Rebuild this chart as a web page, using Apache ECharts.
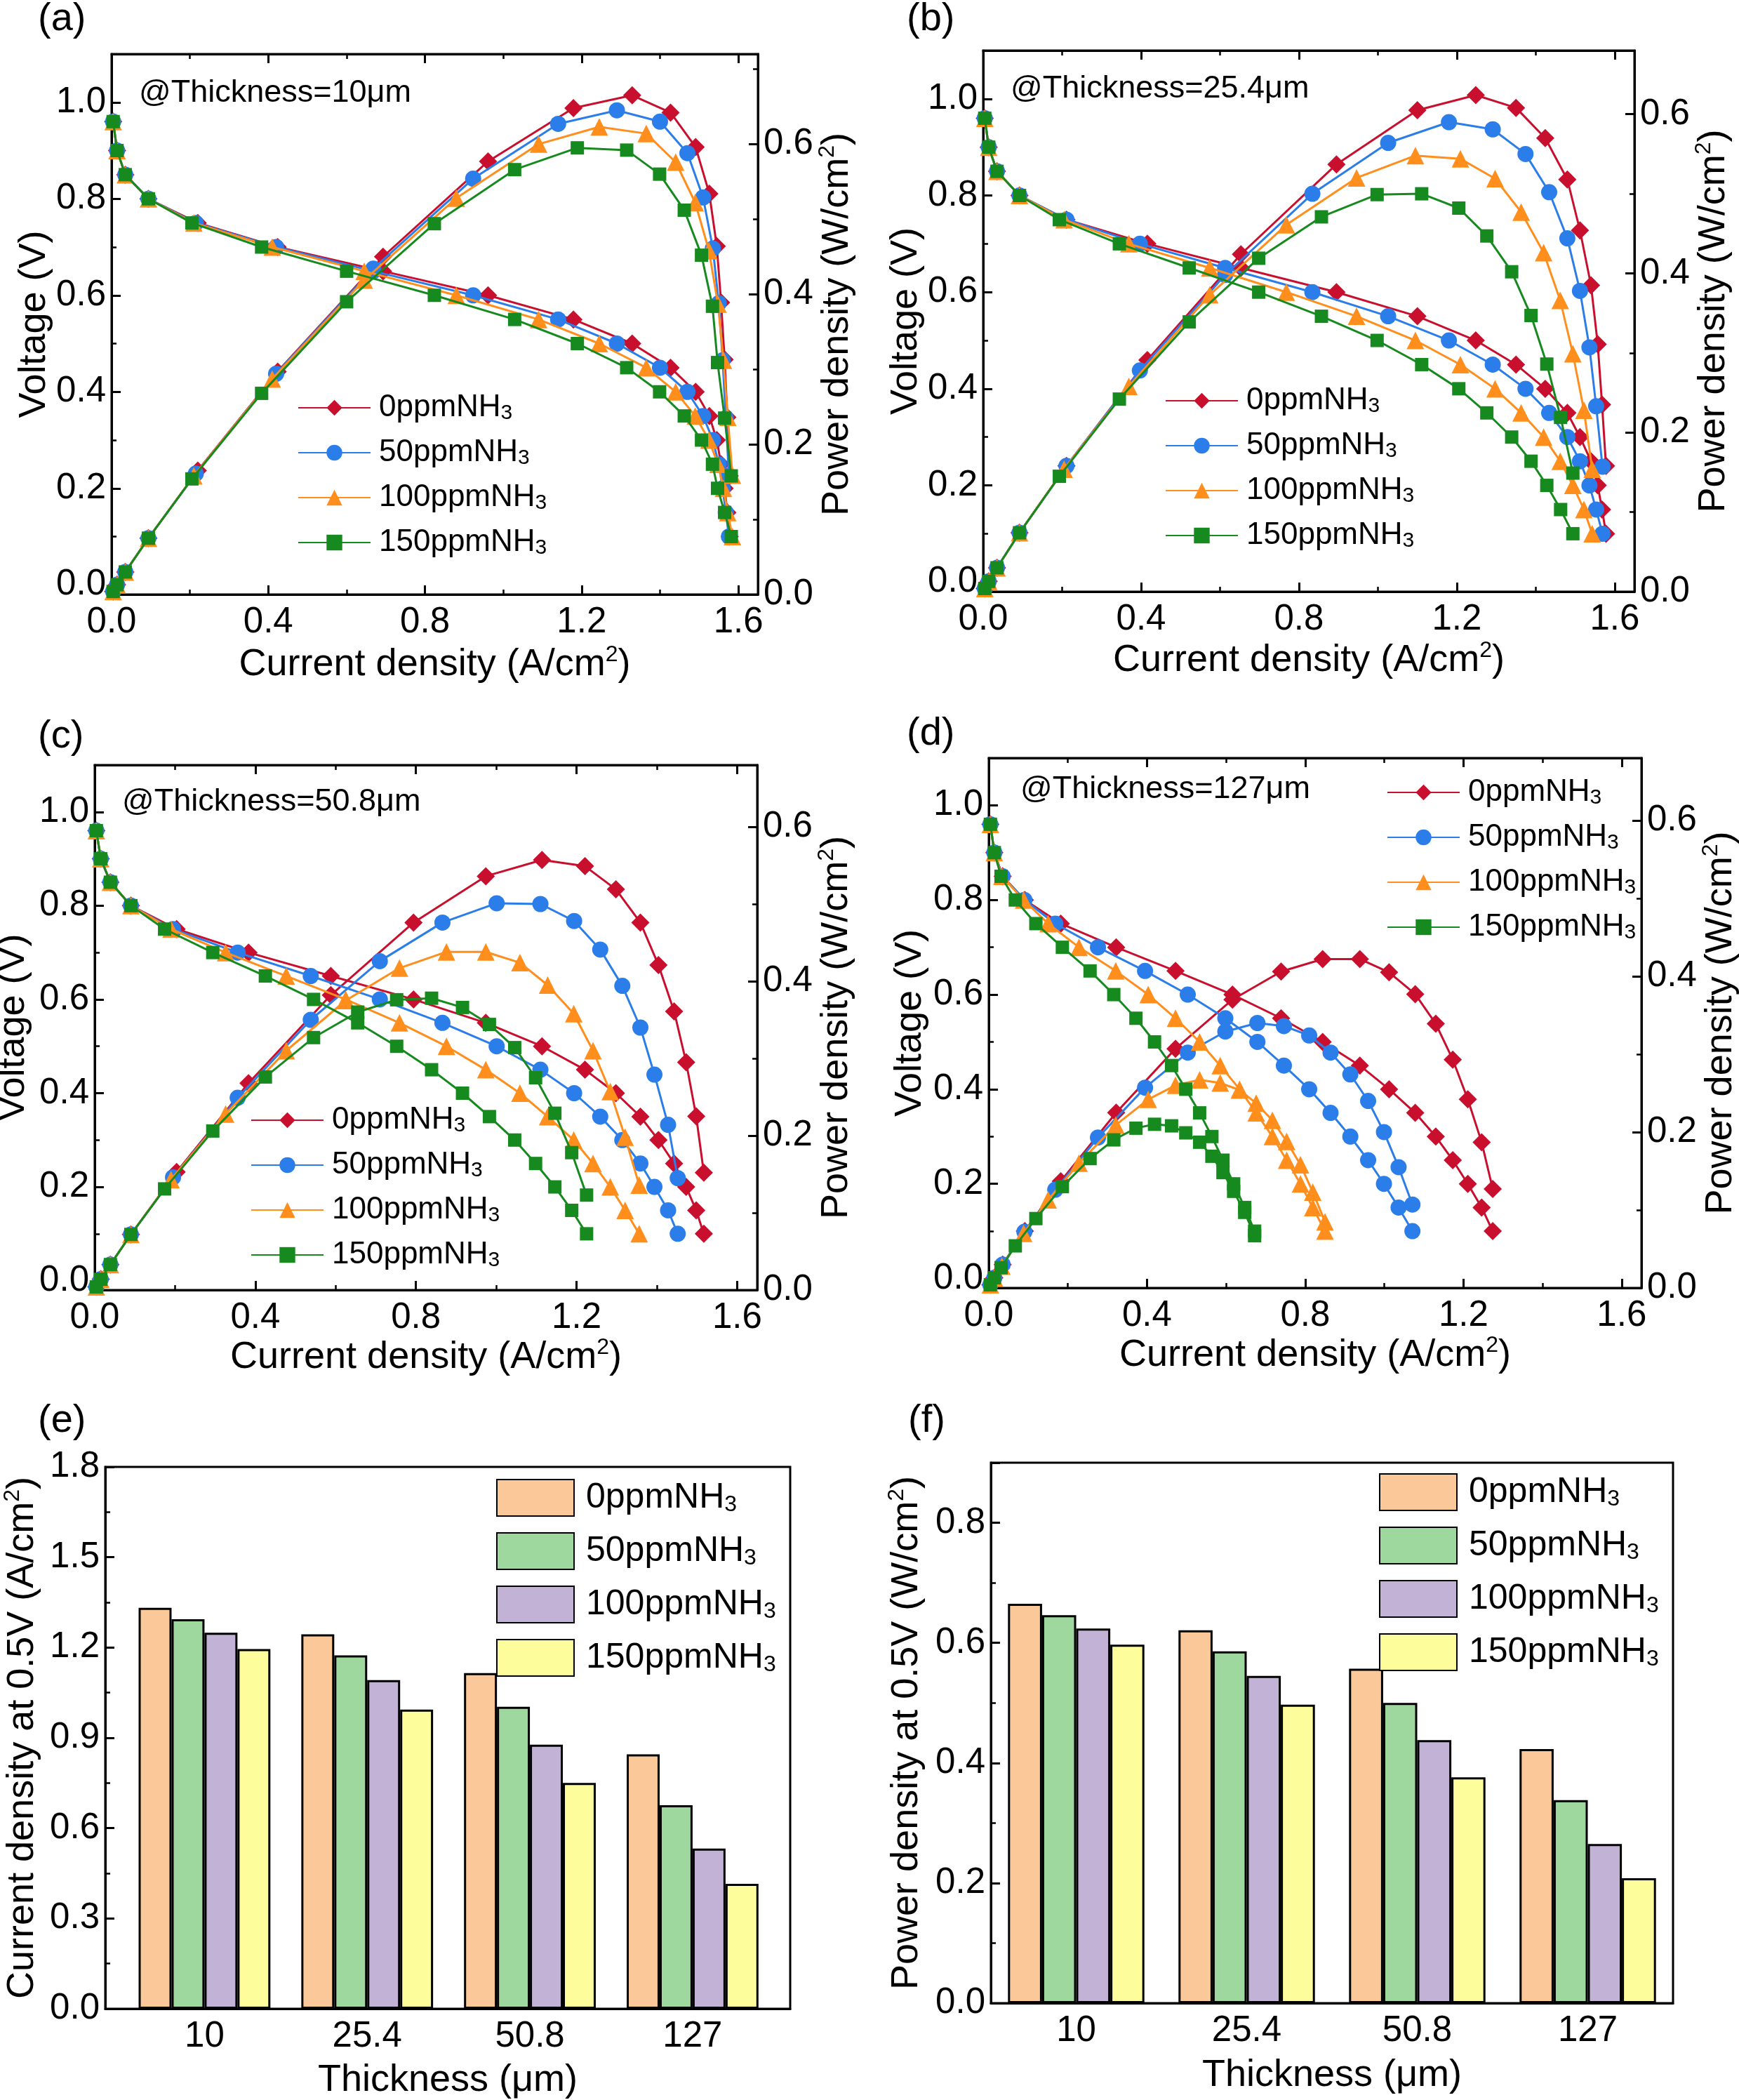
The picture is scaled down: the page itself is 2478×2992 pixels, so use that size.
<!DOCTYPE html>
<html>
<head>
<meta charset="utf-8">
<title>NH3 poisoning vs membrane thickness</title>
<script src="https://cdn.jsdelivr.net/npm/echarts@6/dist/echarts.min.js"></script>
<style>
html, body { margin: 0; padding: 0; background: #fff; }
#chart { width: 2478px; height: 2992px; }
</style>
</head>
<body>
<div id="chart"></div>
<script>
// voltage steps of the polarisation curves (V)
const voltSteps = [0.96, 0.9, 0.85, 0.8, 0.75, 0.7, 0.65, 0.6, 0.55, 0.5, 0.45, 0.4, 0.35, 0.3, 0.25, 0.2, 0.15, 0.1];

// (a) 10 um : current density (A/cm2) and power density (W/cm2)
const curA_0   = [0.004, 0.014, 0.035, 0.094, 0.22, 0.424, 0.693, 0.961, 1.179, 1.329, 1.427, 1.491, 1.526, 1.545, 1.556, 1.565, 1.572, 1.578];
const powA_0   = [0.004, 0.013, 0.030, 0.075, 0.165, 0.297, 0.450, 0.577, 0.648, 0.665, 0.642, 0.596, 0.534, 0.464, 0.389, 0.313, 0.236, 0.158];
const curA_50  = [0.004, 0.014, 0.035, 0.094, 0.215, 0.42, 0.668, 0.923, 1.14, 1.29, 1.4, 1.47, 1.51, 1.535, 1.55, 1.56, 1.568, 1.576];
const powA_50  = [0.004, 0.013, 0.030, 0.075, 0.161, 0.294, 0.434, 0.554, 0.627, 0.645, 0.630, 0.588, 0.529, 0.461, 0.388, 0.312, 0.235, 0.158];
const curA_100 = [0.004, 0.014, 0.035, 0.094, 0.21, 0.41, 0.645, 0.88, 1.09, 1.245, 1.365, 1.44, 1.49, 1.525, 1.548, 1.562, 1.573, 1.585];
const powA_100 = [0.004, 0.013, 0.030, 0.075, 0.158, 0.287, 0.419, 0.528, 0.600, 0.623, 0.614, 0.576, 0.522, 0.458, 0.387, 0.312, 0.236, 0.159];
const curA_150 = [0.004, 0.014, 0.035, 0.094, 0.205, 0.383, 0.6, 0.824, 1.029, 1.189, 1.315, 1.399, 1.462, 1.506, 1.534, 1.547, 1.565, 1.582];
const powA_150 = [0.004, 0.013, 0.030, 0.075, 0.154, 0.268, 0.390, 0.494, 0.566, 0.595, 0.592, 0.560, 0.512, 0.452, 0.384, 0.309, 0.235, 0.158];

// (b) 25.4 um
const curB_0   = [0.004, 0.014, 0.035, 0.092, 0.211, 0.416, 0.653, 0.895, 1.1, 1.248, 1.35, 1.424, 1.48, 1.512, 1.54, 1.557, 1.568, 1.578];
const powB_0   = [0.004, 0.013, 0.030, 0.074, 0.158, 0.291, 0.424, 0.537, 0.605, 0.624, 0.608, 0.570, 0.518, 0.454, 0.385, 0.311, 0.235, 0.158];
const curB_50  = [0.004, 0.014, 0.035, 0.092, 0.211, 0.397, 0.613, 0.834, 1.026, 1.18, 1.291, 1.374, 1.434, 1.48, 1.512, 1.536, 1.553, 1.569];
const powB_50  = [0.004, 0.013, 0.030, 0.074, 0.158, 0.278, 0.398, 0.500, 0.564, 0.590, 0.581, 0.550, 0.502, 0.444, 0.378, 0.307, 0.233, 0.157];
const curB_100 = [0.004, 0.014, 0.035, 0.092, 0.205, 0.369, 0.574, 0.768, 0.946, 1.095, 1.209, 1.297, 1.363, 1.42, 1.462, 1.494, 1.522, 1.543];
const powB_100 = [0.004, 0.013, 0.030, 0.074, 0.154, 0.258, 0.373, 0.461, 0.520, 0.548, 0.544, 0.519, 0.477, 0.426, 0.366, 0.299, 0.228, 0.154];
const curB_150 = [0.004, 0.014, 0.035, 0.092, 0.193, 0.345, 0.522, 0.698, 0.857, 0.998, 1.111, 1.205, 1.276, 1.339, 1.388, 1.428, 1.463, 1.494];
const powB_150 = [0.004, 0.013, 0.030, 0.074, 0.145, 0.242, 0.339, 0.419, 0.471, 0.499, 0.500, 0.482, 0.447, 0.402, 0.347, 0.286, 0.219, 0.149];

// (c) 50.8 um
const curC_0   = [0.004, 0.015, 0.039, 0.09, 0.204, 0.383, 0.588, 0.794, 0.974, 1.114, 1.221, 1.298, 1.359, 1.404, 1.443, 1.473, 1.498, 1.517];
const powC_0   = [0.004, 0.014, 0.033, 0.072, 0.153, 0.268, 0.382, 0.476, 0.536, 0.557, 0.549, 0.519, 0.476, 0.421, 0.361, 0.295, 0.225, 0.152];
const curC_50  = [0.004, 0.015, 0.039, 0.09, 0.195, 0.356, 0.538, 0.71, 0.866, 1.001, 1.11, 1.194, 1.259, 1.314, 1.359, 1.394, 1.428, 1.452];
const powC_50  = [0.004, 0.014, 0.033, 0.072, 0.146, 0.249, 0.350, 0.426, 0.476, 0.501, 0.500, 0.478, 0.441, 0.394, 0.340, 0.279, 0.214, 0.145];
const curC_100 = [0.004, 0.015, 0.039, 0.09, 0.19, 0.326, 0.477, 0.625, 0.759, 0.876, 0.974, 1.059, 1.128, 1.193, 1.241, 1.284, 1.321, 1.356];
const powC_100 = [0.004, 0.014, 0.033, 0.072, 0.143, 0.228, 0.310, 0.375, 0.417, 0.438, 0.438, 0.424, 0.395, 0.358, 0.310, 0.257, 0.198, 0.136];
const curC_150 = [0.004, 0.015, 0.039, 0.09, 0.174, 0.294, 0.425, 0.545, 0.655, 0.752, 0.839, 0.916, 0.983, 1.046, 1.098, 1.146, 1.188, 1.225];
const powC_150 = [0.004, 0.014, 0.033, 0.072, 0.131, 0.206, 0.276, 0.327, 0.360, 0.376, 0.378, 0.366, 0.344, 0.314, 0.275, 0.229, 0.178, 0.123];

// (d) 127 um
const curD_0   = [0.004, 0.014, 0.035, 0.091, 0.182, 0.322, 0.472, 0.616, 0.739, 0.844, 0.938, 1.012, 1.078, 1.13, 1.173, 1.211, 1.246, 1.274];
const powD_0   = [0.004, 0.013, 0.030, 0.073, 0.137, 0.225, 0.307, 0.370, 0.406, 0.422, 0.422, 0.405, 0.377, 0.339, 0.293, 0.242, 0.187, 0.127];
const curD_50  = [0.004, 0.014, 0.035, 0.09, 0.168, 0.276, 0.395, 0.503, 0.598, 0.679, 0.746, 0.81, 0.864, 0.914, 0.959, 0.999, 1.036, 1.071];
const powD_50  = [0.004, 0.013, 0.030, 0.072, 0.126, 0.193, 0.257, 0.302, 0.329, 0.340, 0.336, 0.324, 0.302, 0.274, 0.240, 0.200, 0.155, 0.107];
const curD_100 = [0.004, 0.014, 0.033, 0.088, 0.15, 0.228, 0.321, 0.403, 0.472, 0.533, 0.585, 0.634, 0.676, 0.717, 0.753, 0.788, 0.819, 0.85];
const powD_100 = [0.004, 0.013, 0.028, 0.070, 0.113, 0.160, 0.209, 0.242, 0.260, 0.267, 0.263, 0.254, 0.237, 0.215, 0.188, 0.158, 0.123, 0.085];
const curD_150 = [0.004, 0.014, 0.031, 0.067, 0.119, 0.186, 0.256, 0.316, 0.372, 0.419, 0.462, 0.498, 0.533, 0.564, 0.592, 0.619, 0.647, 0.672];
const powD_150 = [0.004, 0.013, 0.026, 0.054, 0.089, 0.130, 0.166, 0.190, 0.205, 0.210, 0.208, 0.199, 0.187, 0.169, 0.148, 0.124, 0.097, 0.067];

// (e)/(f) values at 0.5 V per membrane thickness
const thicknessLabels = ['10', '25.4', '50.8', '127'];
const concLabels = ['0ppm', '50ppm', '100ppm', '150ppm'];
const curAt05_0   = [1.332, 1.244, 1.115, 0.845];
const curAt05_50  = [1.294, 1.174, 1.003, 0.676];
const curAt05_100 = [1.249, 1.092, 0.877, 0.532];
const curAt05_150 = [1.195, 0.994, 0.750, 0.415];
const powAt05_0   = [0.665, 0.621, 0.557, 0.423];
const powAt05_50  = [0.646, 0.586, 0.500, 0.338];
const powAt05_100 = [0.624, 0.545, 0.438, 0.265];
const powAt05_150 = [0.597, 0.497, 0.376, 0.208];

const FONT = '"Liberation Sans", Arial, Helvetica, sans-serif';
const lineColors = ['#C8102E', '#2B7DE9', '#FF8E1C', '#168A1E'];
const lineSymbols = ['diamond', 'circle', 'triangle', 'rect'];
const symbolSizes = [26, 23, 25, 19];
const barColors = ['#FBC999', '#9ED89E', '#C2B2D6', '#FEFD9B'];

// gaps = [left name, right name, bottom name]
const linePanels = [
  { box: [159, 77, 921, 770], cur: [curA_0, curA_50, curA_100, curA_150], pow: [powA_0, powA_50, powA_100, powA_150],
    pMax: 0.72, note: '@Thickness=10μm', notePos: [198, 110], legendPos: [424, 559], gaps: [80, 73, 70], tag: '(a)', tagPos: [54, 0] },
  { box: [1401, 72, 928, 771], cur: [curB_0, curB_50, curB_100, curB_150], pow: [powB_0, powB_50, powB_100, powB_150],
    pMax: 0.68, note: '@Thickness=25.4μm', notePos: [1440, 104], legendPos: [1660, 549], gaps: [80, 71, 68], tag: '(b)', tagPos: [1292, 0] },
  { box: [135, 1090, 944, 748], cur: [curC_0, curC_50, curC_100, curC_150], pow: [powC_0, powC_50, powC_100, powC_150],
    pMax: 0.68, note: '@Thickness=50.8μm', notePos: [174, 1120], legendPos: [357, 1574], gaps: [86, 83, 66], tag: '(c)', tagPos: [54, 1022] },
  { box: [1409, 1080, 930, 755], cur: [curD_0, curD_50, curD_100, curD_150], pow: [powD_0, powD_50, powD_100, powD_150],
    pMax: 0.68, note: '@Thickness=127μm', notePos: [1454, 1102], legendPos: [1976, 1107], gaps: [82, 76, 60], tag: '(d)', tagPos: [1292, 1018] }
];

const barPanels = [
  { box: [150, 2090, 976, 772], vals: [curAt05_0, curAt05_50, curAt05_100, curAt05_150], xMin: 0.39, xMax: 4.6, yMax: 1.8, yStep: 0.3,
    yName: '{n|Current density at 0.5V (A/cm}{s|2}{n|)}', legendPos: [707, 2107], gaps: [88, 72], gap: '19%', tag: '(e)', tagPos: [54, 1997] },
  { box: [1412, 2084, 972, 770], vals: [powAt05_0, powAt05_50, powAt05_100, powAt05_150], xMin: 0.5, xMax: 4.5, yMax: 0.9, yStep: 0.2,
    yName: '{n|Power density at 0.5V (W/cm}{s|2}{n|)}', legendPos: [1965, 2099], gaps: [90, 73], gap: '20%', tag: '(f)', tagPos: [1294, 1997] }
];

const nameRich = {
  n: { fontSize: 54, fontFamily: FONT, color: '#000', lineHeight: 60 },
  s: { fontSize: 32, fontFamily: FONT, color: '#000', lineHeight: 24, verticalAlign: 'top' }
};

function pairs(xs, ys) {
  return xs.map((x, i) => [x, ys[i]]);
}

function onStep(step) {
  return function(v) {
    let k = v / step;
    return Math.abs(k - Math.round(k)) < 1e-6 ? v.toFixed(1) : '';
  };
}

function legendName(name) {
  let m = name.match(/^(\d+ppm)/);
  return '{n|' + m[1] + 'NH}{s|3}';
}

function axisBase() {
  return {
    axisLine: { show: true, onZero: false, lineStyle: { color: '#000', width: 3 } },
    axisTick: { show: true, inside: true, length: 13, lineStyle: { color: '#000', width: 3 } },
    minorTick: { show: true, splitNumber: 2, length: 7, lineStyle: { color: '#000', width: 2.5 } },
    splitLine: { show: false },
    minorSplitLine: { show: false },
    axisLabel: { color: '#000', fontSize: 51, fontFamily: FONT },
    nameTextStyle: { color: '#000', fontSize: 54, fontFamily: FONT, rich: nameRich }
  };
}

let grids = [], xAxes = [], yAxes = [], series = [], legends = [], graphics = [];

linePanels.forEach(function(p, i) {
  grids.push({ left: p.box[0], top: p.box[1], width: p.box[2], height: p.box[3], show: true,
    borderColor: '#000', borderWidth: 3, outerBoundsMode: 'none', containLabel: false });

  let xb = axisBase();
  xb.axisLabel.margin = 14;
  xb.axisLabel.formatter = onStep(0.4);
  xAxes.push(Object.assign(xb, { type: 'value', gridIndex: i, position: 'bottom', min: 0, max: 1.65, interval: 0.4,
    name: '{n|Current density (A/cm}{s|2}{n|)}', nameLocation: 'middle', nameGap: p.gaps[2] }));
  let xt = axisBase();
  xt.axisLabel = { show: false };
  xAxes.push(Object.assign(xt, { type: 'value', gridIndex: i, position: 'top', min: 0, max: 1.65, interval: 0.4 }));

  let yl = axisBase();
  yl.axisLabel.margin = 8;
  yl.axisLabel.formatter = onStep(0.2);
  yAxes.push(Object.assign(yl, { type: 'value', gridIndex: i, position: 'left', min: -0.02, max: 1.1, splitNumber: 5,
    name: '{n|Voltage (V)}', nameLocation: 'middle', nameRotate: 90, nameGap: p.gaps[0] }));
  let yr = axisBase();
  yr.axisLabel.margin = 8;
  yr.axisLabel.formatter = onStep(0.2);
  yAxes.push(Object.assign(yr, { type: 'value', gridIndex: i, position: 'right', min: 0, max: p.pMax, interval: 0.2,
    name: '{n|Power density (W/cm}{s|2}{n|)}', nameLocation: 'middle', nameRotate: 90, nameGap: p.gaps[1] }));

  p.cur.forEach(function(cur, k) {
    let base = {
      type: 'line', name: concLabels[k] + 'NH3', xAxisIndex: 2 * i,
      symbol: lineSymbols[k], symbolSize: symbolSizes[k], showAllSymbol: true,
      itemStyle: { color: lineColors[k] }, lineStyle: { color: lineColors[k], width: 3 },
      z: 2 + k, animation: false
    };
    series.push(Object.assign({}, base, { yAxisIndex: 2 * i, data: pairs(cur, voltSteps) }));
    series.push(Object.assign({}, base, { yAxisIndex: 2 * i + 1, data: pairs(cur, p.pow[k]) }));
  });

  legends.push({
    orient: 'vertical', left: p.legendPos[0], top: p.legendPos[1], padding: 0, selectedMode: false,
    data: concLabels.map(c => c + 'NH3'), itemWidth: 103, itemHeight: 28, itemGap: 19,
    formatter: legendName,
    textStyle: { rich: {
      n: { fontSize: 44, fontFamily: FONT, color: '#000', lineHeight: 46, padding: [0, 0, 0, 7] },
      s: { fontSize: 30, fontFamily: FONT, color: '#000', lineHeight: 12, verticalAlign: 'bottom' }
    } }
  });

  graphics.push({ type: 'text', left: p.notePos[0], top: p.notePos[1],
    style: { text: p.note, font: '45px ' + FONT, fill: '#000' } });
  graphics.push({ type: 'text', left: p.tagPos[0], top: p.tagPos[1],
    style: { text: p.tag, font: '56px ' + FONT, fill: '#000' } });
});

barPanels.forEach(function(p, j) {
  let gi = 4 + j;
  grids.push({ left: p.box[0], top: p.box[1], width: p.box[2], height: p.box[3], show: true,
    borderColor: '#000', borderWidth: 3, outerBoundsMode: 'none', containLabel: false });

  let xb = axisBase();
  xb.axisTick = { show: false };
  xb.minorTick = { show: false };
  xb.axisLabel.margin = 14;
  xb.axisLabel.formatter = function(v) {
    return Number.isInteger(v) && v >= 1 && v <= 4 ? thicknessLabels[v - 1] : '';
  };
  xAxes.push(Object.assign(xb, { type: 'value', gridIndex: gi, position: 'bottom', min: p.xMin, max: p.xMax,
    name: '{n|Thickness (μm)}', nameLocation: 'middle', nameGap: p.gaps[1] }));

  let yl = axisBase();
  yl.axisLabel.margin = 8;
  yl.axisLabel.formatter = onStep(p.yStep);
  yAxes.push(Object.assign(yl, { type: 'value', gridIndex: gi, position: 'left', min: 0, max: p.yMax, interval: p.yStep,
    name: p.yName, nameLocation: 'middle', nameRotate: 90, nameGap: p.gaps[0] }));

  p.vals.forEach(function(vals, k) {
    series.push({
      type: 'bar', name: concLabels[k] + '-bar', xAxisIndex: 8 + j, yAxisIndex: 8 + j,
      data: vals.map((v, i) => [i + 1, v]),
      itemStyle: { color: barColors[k], borderColor: '#000', borderWidth: 3 },
      barGap: '0%', barCategoryGap: p.gap, animation: false
    });
  });

  legends.push({
    orient: 'vertical', left: p.legendPos[0], top: p.legendPos[1], padding: 0, selectedMode: false,
    data: concLabels.map(c => c + '-bar'), icon: 'rect', itemWidth: 110, itemHeight: 52, itemGap: 22,
    formatter: legendName,
    textStyle: { rich: {
      n: { fontSize: 50, fontFamily: FONT, color: '#000', lineHeight: 52, padding: [0, 0, 0, 12] },
      s: { fontSize: 32, fontFamily: FONT, color: '#000', lineHeight: 15, verticalAlign: 'bottom' }
    } }
  });

  graphics.push({ type: 'text', left: p.tagPos[0], top: p.tagPos[1],
    style: { text: p.tag, font: '56px ' + FONT, fill: '#000' } });
});

let chart = echarts.init(document.getElementById('chart'), null, { renderer: 'canvas' });
chart.setOption({
  backgroundColor: '#fff',
  animation: false,
  textStyle: { fontFamily: FONT, color: '#000' },
  grid: grids,
  xAxis: xAxes,
  yAxis: yAxes,
  legend: legends,
  graphic: graphics,
  series: series
});
</script>
</body>
</html>
